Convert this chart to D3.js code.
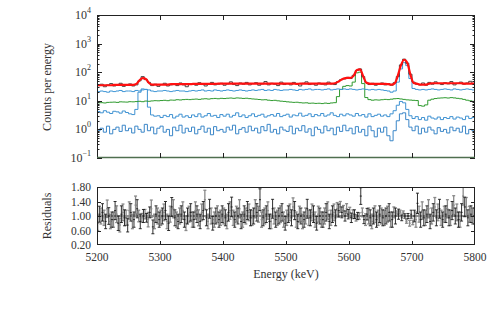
<!DOCTYPE html>
<html><head><meta charset="utf-8">
<script src="https://cdn.jsdelivr.net/npm/d3@7"></script>
<style>
body{margin:0;background:#fff}
svg{display:block}
text{font-family:"Liberation Serif","DejaVu Serif",serif;fill:#333}
</style>
</head><body>
<svg id="c" width="498" height="316"></svg>
<script>
// ---------------- DATA ----------------
const energyDomain = [5200, 5800];
const binLow = d3.range(5200, 5800, 5);   // 5 keV bins
const yTopTicks = [0.1, 1, 10, 100, 1000, 10000];
const xTicks = [5200, 5300, 5400, 5500, 5600, 5700, 5800];
const residTicks = [0.20, 0.60, 1.00, 1.40, 1.80];

const dataCounts = [
 34,38,31,36,40,33,37,41,32,35,
 39,33,36,50,70,55,44,34,38,32,
 37,41,33,36,39,34,42,36,31,38,
 40,35,43,37,33,39,44,36,38,41,
 35,39,46,37,34,42,38,44,36,40,
 43,35,39,47,36,41,38,34,45,37,
 40,36,44,38,33,41,46,37,39,35,
 42,38,36,45,39,37,47,55,58,66,
 60,78,115,130,70,44,37,41,35,39,
 42,36,40,35,43,70,180,285,205,85,
 45,38,36,42,35,44,38,46,40,37,
 43,39,47,36,41,45,38,42,48,40];

const fitTotal = [
 35,35,35,35,35,36,36,36,36,36,
 36,36,39,52,62,58,42,37,37,37,
 37,37,37,38,38,38,38,38,38,38,
 39,39,39,39,39,39,39,39,40,40,
 40,40,40,40,40,40,40,40,40,40,
 40,40,40,40,40,40,40,40,40,40,
 40,40,40,39,40,40,40,40,40,40,
 40,40,40,40,40,41,46,54,61,63,
 63,76,120,126,72,43,40,39,39,39,
 39,39,38,37,41,76,176,272,212,82,
 42,40,37,37,37,40,41,41,41,41,
 41,41,41,41,41,41,40,40,40,40];

const compBlueA = [
 21,22,21,20,22,21,22,23,21,22,
 22,21,23,22,24,25,24,22,21,22,
 22,23,22,21,22,23,22,22,21,22,
 23,22,23,24,22,23,22,24,23,22,
 23,24,23,22,23,24,23,22,23,24,
 23,24,25,23,24,23,25,24,23,24,
 24,25,24,23,25,24,25,26,24,25,
 25,24,25,26,24,25,26,25,26,25,
 26,25,24,25,26,25,24,25,24,25,
 24,23,22,20,22,45,130,215,170,60,
 27,25,24,25,24,25,26,25,24,25,
 26,25,24,26,25,24,25,26,25,24];

const compGreen = [
 8.5,8.6,8.4,8.8,8.9,9.0,8.8,9.2,9.1,9.0,
 9.3,9.2,9.4,9.6,9.3,9.8,9.6,9.9,10.1,10.0,
 10.2,10.4,10.1,10.6,10.5,10.9,10.7,11.0,11.2,11.0,
 11.3,11.5,11.2,11.6,11.8,11.5,11.9,12.1,11.8,12.2,
 12.0,12.3,12.5,12.2,12.6,12.4,12.1,12.3,11.9,11.6,
 11.4,11.1,10.8,10.9,10.5,10.2,10.4,10.0,9.7,9.5,
 9.2,9.0,8.8,8.9,8.6,8.4,8.5,8.2,8.3,8.1,
 8.2,8.0,8.3,8.1,8.4,8.6,14,25,32,34,
 33,45,95,100,40,13,11,10.5,10.8,10.6,
 10.9,11.2,11.0,11.4,11.8,12.0,11.6,11.2,10.8,10.6,
 10.4,10.2,6.8,6.5,7.2,10.5,11.4,12.0,12.4,12.6,
 12.8,12.5,12.9,12.6,12.2,11.8,11.2,10.5,10.0,9.6];

const compBlueB = [
 4.2,3.8,4.5,4.0,3.6,4.3,4.1,3.7,4.4,3.9,
 3.5,3.3,5,20,26,25,6,3.2,2.9,3.0,
 2.6,3.1,2.8,3.3,2.5,2.9,3.4,2.7,3.0,2.6,
 3.2,2.8,3.5,2.7,3.0,3.6,2.9,3.1,2.6,3.3,
 2.9,3.4,2.7,3.1,3.8,2.8,3.2,2.6,3.0,3.5,
 2.8,3.1,3.4,2.7,3.0,3.3,2.9,3.6,2.8,3.1,
 3.4,2.7,3.2,3.0,3.7,2.9,3.1,3.5,2.8,3.3,
 3.0,3.6,2.9,3.2,3.8,3.1,2.8,3.4,3.0,3.5,
 3.2,2.9,3.6,3.0,3.3,2.7,3.5,2.8,3.1,3.4,
 2.9,3.2,2.8,3.5,4.5,7,9.5,8.5,5,3,
 2.4,2.8,2.2,2.6,2.1,2.9,2.5,2.3,2.7,2.2,
 2.6,2.4,2.8,2.3,2.7,2.5,2.2,2.9,2.4,2.6];

const compBlueC = [
 0.9,1.1,0.8,1.3,0.7,1.0,1.2,0.85,1.4,0.9,
 1.1,0.75,1.3,1.0,0.8,1.5,0.9,1.2,0.7,1.1,
 1.3,0.8,1.0,0.6,1.2,0.9,1.4,0.75,1.1,0.85,
 1.2,0.7,1.0,1.3,0.8,1.1,0.65,1.25,0.9,1.0,
 0.8,1.2,0.95,1.4,0.7,1.0,1.15,0.8,1.3,0.9,
 1.1,0.75,1.25,0.9,1.5,0.8,1.0,0.7,1.2,0.95,
 0.85,1.3,0.7,1.1,0.9,1.35,0.8,1.05,0.6,1.2,
 1.0,0.75,1.3,0.9,1.1,0.65,1.2,0.85,1.4,0.9,
 1.1,0.7,1.25,0.8,1.0,0.6,1.3,0.9,0.55,1.1,
 0.8,1.2,0.6,0.4,0.9,2.0,3.5,3.8,2.2,1.2,
 0.9,1.3,0.7,1.1,0.8,1.2,0.95,0.7,1.15,0.85,
 1.0,0.75,1.2,0.9,1.1,0.8,1.3,0.7,1.0,0.9];

const residBlack = [
 1.05,1.10,0.85,1.00,0.90,1.15,0.80,1.05,0.95,0.75,
 1.10,0.90,1.20,0.85,1.00,0.95,1.10,0.70,1.05,0.90,
 1.00,1.15,0.80,1.25,0.95,0.85,1.05,0.90,1.00,1.10,
 0.90,1.05,0.85,1.15,0.95,1.20,0.80,1.00,0.90,1.05,
 0.95,1.10,1.25,0.90,1.00,0.85,1.05,1.15,0.95,1.00,
 1.10,1.45,0.95,1.05,0.85,1.20,0.90,1.00,1.10,0.80,
 1.05,0.95,1.15,0.85,1.00,0.90,1.20,0.95,1.05,0.80,
 1.00,0.90,1.10,0.85,1.05,0.95,1.15,1.10,1.00,1.05,
 0.95,1.05,1.00,1.55,0.90,1.05,0.95,1.00,0.90,1.05,
 0.95,1.00,1.10,0.90,1.00,1.05,0.95,1.00,1.00,1.05,
 1.00,1.35,0.90,0.95,1.05,0.85,1.10,0.95,1.20,0.90,
 1.05,0.95,1.15,1.00,0.90,1.10,1.25,0.95,1.05,1.00];

const errBlack = [
 0.22,0.24,0.20,0.23,0.21,0.25,0.20,0.23,0.22,0.19,
 0.24,0.21,0.25,0.20,0.18,0.12,0.15,0.19,0.23,0.21,
 0.22,0.25,0.20,0.26,0.22,0.20,0.23,0.21,0.22,0.24,
 0.21,0.23,0.20,0.25,0.22,0.26,0.19,0.22,0.21,0.23,
 0.22,0.24,0.27,0.21,0.22,0.20,0.23,0.25,0.22,0.22,
 0.24,0.30,0.22,0.23,0.20,0.26,0.21,0.22,0.24,0.19,
 0.23,0.22,0.25,0.20,0.22,0.21,0.26,0.22,0.23,0.19,
 0.22,0.21,0.24,0.20,0.23,0.22,0.18,0.15,0.14,0.13,
 0.13,0.12,0.10,0.23,0.11,0.16,0.22,0.22,0.21,0.23,
 0.22,0.22,0.24,0.21,0.22,0.14,0.08,0.06,0.07,0.11,
 0.16,0.28,0.21,0.22,0.23,0.20,0.24,0.22,0.26,0.21,
 0.23,0.22,0.25,0.22,0.21,0.24,0.27,0.22,0.23,0.22];

const residGray = [
 0.80,1.00,0.95,1.20,0.85,0.90,1.05,0.75,1.10,0.95,
 1.15,0.85,1.30,1.00,0.95,1.05,0.90,1.20,0.85,1.00,
 0.95,1.10,0.85,1.05,1.20,0.90,1.00,1.15,0.80,1.05,
 0.90,1.15,0.95,1.10,1.45,0.85,1.00,0.90,1.05,0.95,
 1.00,0.85,1.15,0.95,1.05,1.20,0.90,1.00,1.10,0.95,
 1.20,1.05,0.90,1.00,1.15,0.85,1.00,0.95,1.05,0.90,
 0.95,1.10,1.25,0.90,1.05,0.85,1.00,0.95,1.10,0.90,
 1.05,0.90,1.00,1.15,0.95,1.10,1.20,1.25,1.15,1.20,
 1.10,1.05,0.95,1.00,1.10,0.90,1.00,0.85,1.05,0.95,
 1.00,0.95,1.05,0.90,1.10,1.08,1.12,1.10,0.85,0.80,
 0.82,0.90,1.05,1.15,0.95,1.20,1.00,1.25,1.10,0.95,
 1.05,1.20,0.95,1.30,1.10,0.90,1.55,1.25,1.05,1.00];

const errGray = [
 0.20,0.22,0.21,0.24,0.20,0.21,0.23,0.19,0.23,0.21,
 0.24,0.20,0.25,0.16,0.12,0.13,0.20,0.24,0.20,0.22,
 0.21,0.23,0.20,0.22,0.25,0.21,0.22,0.24,0.20,0.22,
 0.21,0.24,0.22,0.23,0.26,0.20,0.22,0.21,0.23,0.21,
 0.22,0.20,0.24,0.21,0.22,0.25,0.21,0.22,0.23,0.21,
 0.25,0.22,0.21,0.22,0.24,0.20,0.22,0.21,0.23,0.21,
 0.21,0.23,0.25,0.21,0.22,0.20,0.22,0.21,0.23,0.21,
 0.22,0.21,0.22,0.24,0.21,0.23,0.17,0.15,0.14,0.14,
 0.14,0.12,0.09,0.09,0.12,0.16,0.22,0.20,0.23,0.21,
 0.22,0.21,0.22,0.21,0.15,0.06,0.04,0.04,0.05,0.08,
 0.06,0.21,0.22,0.24,0.21,0.25,0.22,0.26,0.23,0.21,
 0.22,0.25,0.21,0.26,0.23,0.21,0.25,0.26,0.22,0.22];

// ---------------- LAYOUT ----------------
const svg = d3.select("#c");
const L = 97, R = 475;
const topP = {t: 15, b: 158};
const botP = {t: 187, b: 245};

const x = d3.scaleLinear().domain(energyDomain).range([L, R]);
const yTop = d3.scaleLog().domain([0.1, 10000]).range([topP.b, topP.t]);
const yRes = d3.scaleLinear().domain([0.2, 1.8]).range([botP.b, botP.t]);

const defs = svg.append("defs");
defs.append("clipPath").attr("id","clipTop").append("rect")
  .attr("x", L).attr("y", topP.t).attr("width", R-L).attr("height", topP.b-topP.t);
defs.append("clipPath").attr("id","clipBot").append("rect")
  .attr("x", L).attr("y", botP.t).attr("width", R-L).attr("height", botP.b-botP.t);

// ---------------- TOP PANEL ----------------
const gTop = svg.append("g").attr("clip-path","url(#clipTop)");
const stepLine = d3.line().x(d => x(d[0])).y(d => yTop(d[1])).curve(d3.curveStepAfter);
function stepPts(vals){
  const pts = binLow.map((e,i) => [e, vals[i]]);
  pts.push([energyDomain[1], vals[vals.length-1]]);
  return pts;
}
function drawStep(vals, color, w){
  gTop.append("path").attr("d", stepLine(stepPts(vals)))
    .attr("fill","none").attr("stroke",color).attr("stroke-width",w)
    .attr("stroke-linejoin","miter");
}
drawStep(compBlueC, "#3a86c8", 1);
drawStep(compBlueB, "#3f92d2", 1);
drawStep(compGreen, "#2f9a2f", 1);
drawStep(compBlueA, "#3f96d6", 1);
drawStep(dataCounts, "#444", 1);

const fitPts = binLow.map((e,i) => [e + 2.5, fitTotal[i]]);
fitPts.unshift([energyDomain[0], fitTotal[0]]);
fitPts.push([energyDomain[1], fitTotal[fitTotal.length-1]]);
gTop.append("path")
  .attr("d", d3.line().x(d => x(d[0])).y(d => yTop(d[1])).curve(d3.curveMonotoneX)(fitPts))
  .attr("fill","none").attr("stroke","#ff1010").attr("stroke-width",2.2)
  .attr("stroke-linejoin","round");

// frame
svg.append("rect").attr("x", L+0.5).attr("y", topP.t+0.5)
  .attr("width", R-L-1).attr("height", topP.b-topP.t-1)
  .attr("fill","none").attr("stroke","#222").attr("stroke-width",1);
svg.append("line").attr("x1",L).attr("x2",R).attr("y1",topP.b-0.5).attr("y2",topP.b-0.5)
  .attr("stroke","#4f6f4f").attr("stroke-width",1.4);

// log ticks
const tickG = svg.append("g").attr("stroke","#222").attr("stroke-width",1);
for (let dec = -1; dec < 4; dec++){
  for (let m = 1; m < 10; m++){
    const v = m * Math.pow(10, dec);
    const yy = Math.round(yTop(v)) + 0.5;
    const len = m === 1 ? 5 : 2.5;
    tickG.append("line").attr("x1",L).attr("x2",L+len).attr("y1",yy).attr("y2",yy);
    tickG.append("line").attr("x1",R).attr("x2",R-len).attr("y1",yy).attr("y2",yy);
  }
}
xTicks.slice(1,-1).forEach(v => {
  const xx = Math.round(x(v)) + 0.5;
  tickG.append("line").attr("x1",xx).attr("x2",xx).attr("y1",topP.b).attr("y2",topP.b-5);
  tickG.append("line").attr("x1",xx).attr("x2",xx).attr("y1",topP.t).attr("y2",topP.t+5);
});

// y labels with superscripts
yTopTicks.forEach(v => {
  const e = Math.round(Math.log10(v));
  const t = svg.append("text").attr("text-anchor","end")
    .attr("x", 91).attr("y", yTop(v) + 4).attr("font-size", 12);
  t.append("tspan").text("10");
  t.append("tspan").attr("font-size", 8).attr("dy", -6).text(e < 0 ? "\u2212" + (-e) : String(e));
});

svg.append("text").attr("transform","translate(51,87) rotate(-90)")
  .attr("text-anchor","middle").attr("font-size",12).text("Counts per energy");

// ---------------- BOTTOM PANEL ----------------
const gBot = svg.append("g").attr("clip-path","url(#clipBot)");
gBot.append("line").attr("x1",L).attr("x2",R)
  .attr("y1", yRes(1)).attr("y2", yRes(1)).attr("stroke","#222").attr("stroke-width",1);

function drawResid(vals, errs, offset, color, w){
  const g = gBot.append("g").attr("stroke", color).attr("stroke-width", w);
  vals.forEach((v,i) => {
    const cx = x(binLow[i] + offset);
    const y1 = yRes(v - errs[i]), y2 = yRes(v + errs[i]);
    g.append("line").attr("x1",cx).attr("x2",cx).attr("y1",y1).attr("y2",y2);
    g.append("line").attr("x1",cx-1.5).attr("x2",cx+1.5).attr("y1",y1).attr("y2",y1);
    g.append("line").attr("x1",cx-1.5).attr("x2",cx+1.5).attr("y1",y2).attr("y2",y2);
    g.append("line").attr("x1",cx-1).attr("x2",cx+1).attr("y1",yRes(v)).attr("y2",yRes(v));
  });
}
drawResid(residGray, errGray, 1.2, "#8a8a8a", 1.3);
drawResid(residBlack, errBlack, 3.7, "#1a1a1a", 0.9);

svg.append("rect").attr("x", L+0.5).attr("y", botP.t+0.5)
  .attr("width", R-L-1).attr("height", botP.b-botP.t-1)
  .attr("fill","none").attr("stroke","#222").attr("stroke-width",1);

const tickB = svg.append("g").attr("stroke","#222").attr("stroke-width",1);
xTicks.slice(1,-1).forEach(v => {
  const xx = Math.round(x(v)) + 0.5;
  tickB.append("line").attr("x1",xx).attr("x2",xx).attr("y1",botP.b).attr("y2",botP.b-4);
  tickB.append("line").attr("x1",xx).attr("x2",xx).attr("y1",botP.t).attr("y2",botP.t+4);
});
residTicks.slice(1,-1).forEach(v => {
  const yy = Math.round(yRes(v)) + 0.5;
  tickB.append("line").attr("x1",L).attr("x2",L+4).attr("y1",yy).attr("y2",yy);
  tickB.append("line").attr("x1",R).attr("x2",R-4).attr("y1",yy).attr("y2",yy);
});

residTicks.forEach(v => {
  svg.append("text").attr("text-anchor","end").attr("x", 91).attr("y", yRes(v) + 4)
    .attr("font-size", 11.5).text(v.toFixed(2));
});
xTicks.forEach(v => {
  svg.append("text").attr("text-anchor","middle").attr("x", x(v)).attr("y", 261)
    .attr("font-size", 11.5).text(v);
});
svg.append("text").attr("text-anchor","middle").attr("x", (L+R)/2).attr("y", 278)
  .attr("font-size", 12).text("Energy (keV)");
svg.append("text").attr("transform","translate(51,216) rotate(-90)")
  .attr("text-anchor","middle").attr("font-size",12).text("Residuals");
</script>
</body></html>
